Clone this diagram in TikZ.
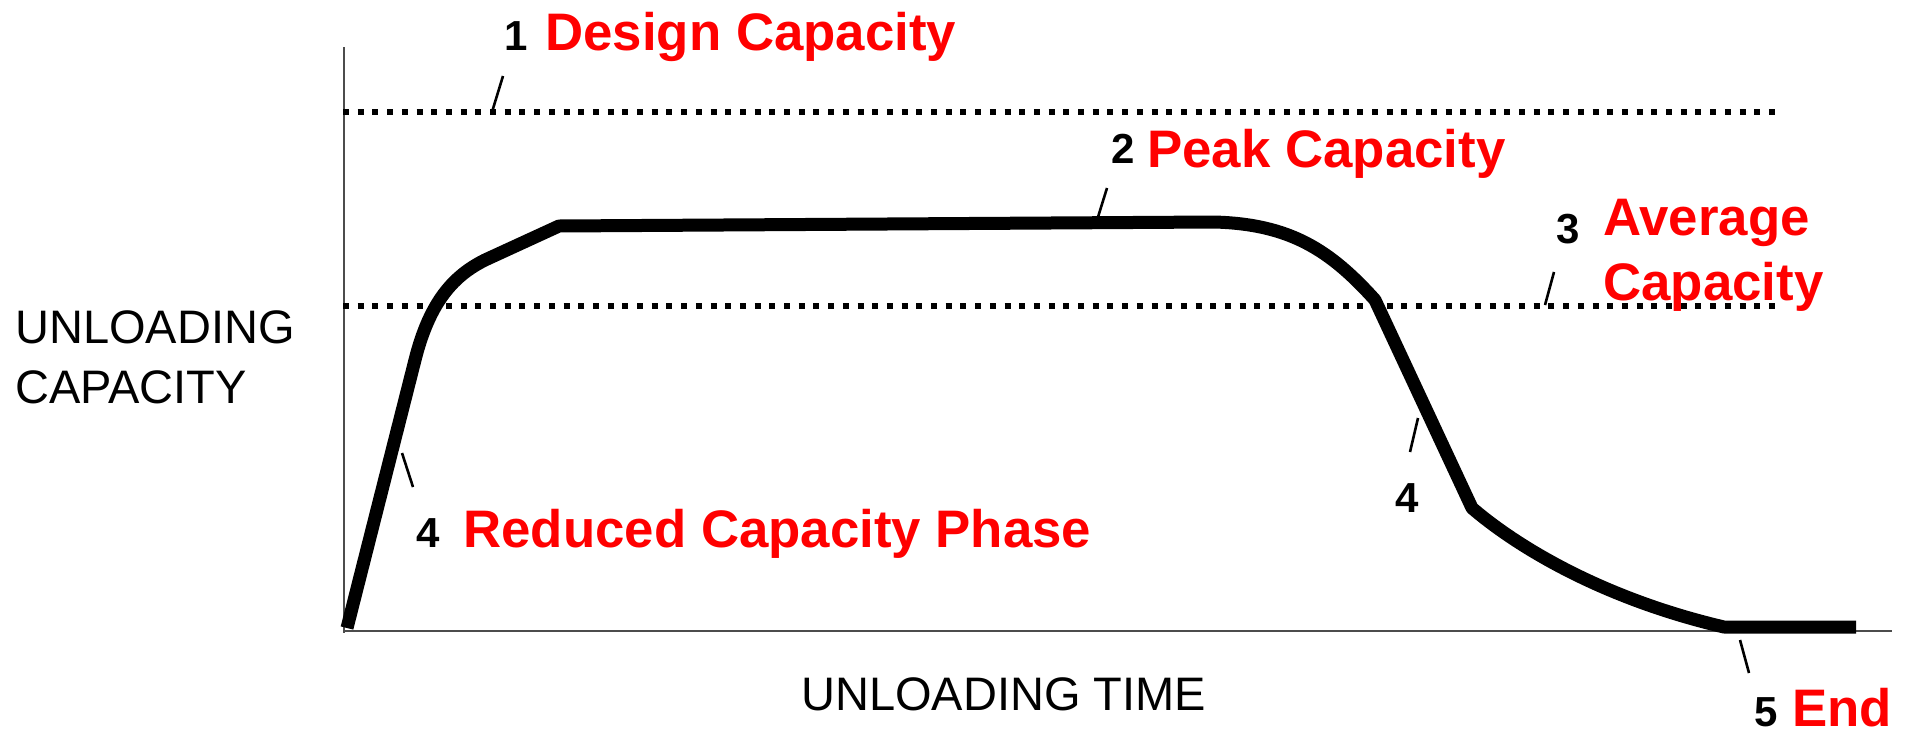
\documentclass[tikz,border=0pt]{standalone}
\usepackage{fontspec}
\setmainfont{Liberation Sans}
\begin{document}
\begin{tikzpicture}[x=0.5pt,y=-0.5pt,
  axis/.style={draw=black!70, line width=1.2pt},
  refline/.style={line width=3pt, dash pattern=on 3pt off 4.35pt},
  profile/.style={line width=6.5pt, line join=round},
  leader/.style={line width=1.3pt},
  num/.style={font=\bfseries\fontsize{21}{24}\selectfont, inner sep=0pt, anchor=base},
  tag/.style={font=\bfseries\fontsize{26.4}{28}\selectfont, text=red, inner sep=0pt, anchor=base west},
  axlabel/.style={font=\fontsize{23.5}{28}\selectfont, inner sep=0pt, anchor=base west}]
\useasboundingbox[fill=white] (0,0) rectangle (1905,734);

% axes
\coordinate (O) at (344,631);
\coordinate (ytop) at (344,47);
\coordinate (xend) at (1892,631);
\draw[axis] (ytop) -- (344,633);
\draw[axis] (O) -- (xend);

% reference capacity levels
\coordinate (d0) at (343,112);
\coordinate (d1) at (1782,112);
\coordinate (a0) at (343,306);
\coordinate (a1) at (1782,306);
\draw[refline] (d0) -- (d1);
\draw[refline] (a0) -- (a1);

% unloading capacity profile
\draw[profile] (347,628) -- (415,360)
  .. controls (430,300) and (455,275) .. (485,260)
  -- (559,226) -- (1214,222)
  .. controls (1290,224) and (1330,250) .. (1375,300)
  -- (1472,508)
  .. controls (1515,545) and (1600,598) .. (1724,627)
  -- (1856,627);

% labels
\node[num] (n1) at (516,50) {1};
\node[tag] (t1) at (545,50) {Design Capacity};
\node[num] (n2) at (1123,163) {2};
\node[tag] (t2) at (1147,167) {Peak Capacity};
\node[num] (n3) at (1568,243) {3};
\node[tag] (t3a) at (1603,235) {Average};
\node[tag] (t3b) at (1603,300) {Capacity};
\node[num] (n4a) at (428,547) {4};
\node[tag] (t4) at (463,547) {Reduced Capacity Phase};
\node[num] (n4b) at (1407,512) {4};
\node[num] (n5) at (1766,726) {5};
\node[tag] (t5) at (1792,726) {End};
\node[axlabel] (yl1) at (15,343) {UNLOADING};
\node[axlabel] (yl2) at (15,403) {CAPACITY};
\node[axlabel] (xl) at (801,710) {UNLOADING TIME};

% leader lines
\coordinate (l1a) at (492,112); \coordinate (l1b) at (503,76);
\coordinate (l2a) at (1098,217); \coordinate (l2b) at (1107,188);
\coordinate (l3a) at (1545,305); \coordinate (l3b) at (1554,272);
\coordinate (l4a) at (402,453); \coordinate (l4b) at (413,487);
\coordinate (l5a) at (1418,418); \coordinate (l5b) at (1410,452);
\coordinate (l6a) at (1740,640); \coordinate (l6b) at (1749,673);
\draw[leader] (l1a) -- (l1b);
\draw[leader] (l2a) -- (l2b);
\draw[leader] (l3a) -- (l3b);
\draw[leader] (l4a) -- (l4b);
\draw[leader] (l5a) -- (l5b);
\draw[leader] (l6a) -- (l6b);
\end{tikzpicture}
\end{document}
